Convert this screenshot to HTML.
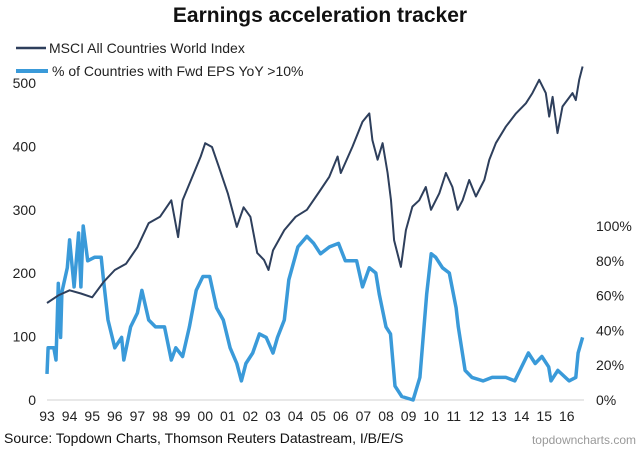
<!DOCTYPE html>
<html><head><meta charset="utf-8"><style>
body{margin:0;background:#fff;font-family:"Liberation Sans",sans-serif}
svg text{font-family:"Liberation Sans",sans-serif}
</style></head><body>
<svg width="640" height="451" viewBox="0 0 640 451">
<text x="320" y="22" text-anchor="middle" font-size="21" font-weight="bold" fill="#111">Earnings acceleration tracker</text>
<g>
<line x1="16" y1="48" x2="46" y2="48" stroke="#2e3f5c" stroke-width="2.5"/>
<text x="49" y="53" font-size="14" fill="#222">MSCI All Countries World Index</text>
<line x1="16" y1="71" x2="48" y2="71" stroke="#3a9ad9" stroke-width="4"/>
<text x="52" y="76" font-size="14" fill="#222">% of Countries with Fwd EPS YoY &gt;10%</text>
</g>
<line x1="47" y1="400" x2="584" y2="400" stroke="#d0d0d0" stroke-width="1"/>
<g id="lt"></g>
<g id="rt"></g>
<g id="xt"></g>
<polyline id="pct" fill="none" stroke="#3a9ad9" stroke-width="3.5" stroke-linejoin="round"/>
<polyline id="msci" fill="none" stroke="#2e3f5c" stroke-width="2" stroke-linejoin="round"/>
<text x="4" y="443" font-size="14" fill="#111">Source: Topdown Charts, Thomson Reuters Datastream, I/B/E/S</text>
<text x="636" y="444" text-anchor="end" font-size="12" fill="#999">topdowncharts.com</text>
</svg>
<script>
const xLabels=["93","94","95","96","97","98","99","00","01","02","03","04","05","06","07","08","09","10","11","12","13","14","15","16"];
const leftTicks=[0,100,200,300,400,500];
const rightTicks=[0,20,40,60,80,100];
const msciYears=[93,93.5,94,94.5,95,95.5,96,96.5,97,97.5,98,98.5,98.8,99,99.5,99.8,100,100.3,100.6,101,101.4,101.7,102,102.3,102.6,102.8,103,103.5,104,104.5,105.04,105.49,105.86,106,106.52,106.96,107.26,107.4,107.63,107.85,108.07,108.22,108.36,108.66,108.88,109.17,109.47,109.76,109.99,110.36,110.65,110.94,111.17,111.39,111.68,111.98,112.35,112.57,112.86,113.3,113.75,114.19,114.48,114.78,115.07,115.22,115.37,115.59,115.81,116.25,116.4,116.55,116.7];
const msciValues=[153,165,173,168,162,186,205,215,241,279,289,315,257,315,358,384,405,399,368,326,273,304,289,232,221,205,236,268,289,300,328,352,384,358,400,439,452,410,379,405,358,315,252,210,268,305,315,336,300,326,358,336,300,315,347,321,347,379,405,431,452,468,484,505,484,447,478,421,463,484,473,505,526];
const pctYears=[93,93.05,93.3,93.4,93.5,93.6,93.66,93.9,94,94.2,94.4,94.5,94.6,94.8,95.1,95.4,95.5,95.7,96,96.3,96.4,96.7,97,97.2,97.5,97.8,98.2,98.5,98.7,99,99.3,99.6,99.9,100.2,100.5,100.8,101.1,101.4,101.6,101.8,102.1,102.4,102.7,103,103.2,103.5,103.7,104.1,104.5,104.8,105.1,105.5,105.9,106.2,106.7,106.96,107.26,107.55,107.7,108,108.2,108.4,108.7,109.2,109.5,109.8,110,110.2,110.5,110.8,111.1,111.2,111.5,111.8,112.3,112.7,113.3,113.7,114,114.3,114.6,114.9,115.2,115.3,115.6,116.1,116.4,116.5,116.7];
const pctValues=[15,30,30,23,67,36,62,76,92,65,96,65,100,80,82,82,69,46,30,36,23,42,50,63,46,42,42,23,30,25,42,63,71,71,53,46,30,21,11,21,27,38,36,27,36,46,69,88,94,90,84,88,90,80,80,65,76,73,61,42,38,8,2,0,13,61,84,82,76,73,53,42,17,13,11,13,13,11,19,27,21,25,19,11,17,11,13,27,36];
const NS="http://www.w3.org/2000/svg";
const xS=y=>47+(y-93)*22.6;
const yL=v=>400-v*0.634;
const yR=p=>400-p*1.74;
function t(g,x,y,s,a){const e=document.createElementNS(NS,"text");e.setAttribute("x",x);e.setAttribute("y",y);e.setAttribute("font-size","14");e.setAttribute("fill","#222");e.setAttribute("text-anchor",a);e.textContent=s;document.getElementById(g).appendChild(e);return e;}
leftTicks.forEach(v=>{const e=t("lt",36,yL(v)+5,String(v),"end");

});
rightTicks.forEach(p=>{const e=t("rt",596,yR(p)+5,p+"%","start");

});
xLabels.forEach((s,i)=>{const e=t("xt",xS(93+i),421,s,"middle");

});
document.getElementById("msci").setAttribute("points",msciYears.map((y,i)=>xS(y).toFixed(1)+","+yL(msciValues[i]).toFixed(1)).join(" "));
document.getElementById("pct").setAttribute("points",pctYears.map((y,i)=>xS(y).toFixed(1)+","+yR(pctValues[i]).toFixed(1)).join(" "));
</script>
</body></html>
